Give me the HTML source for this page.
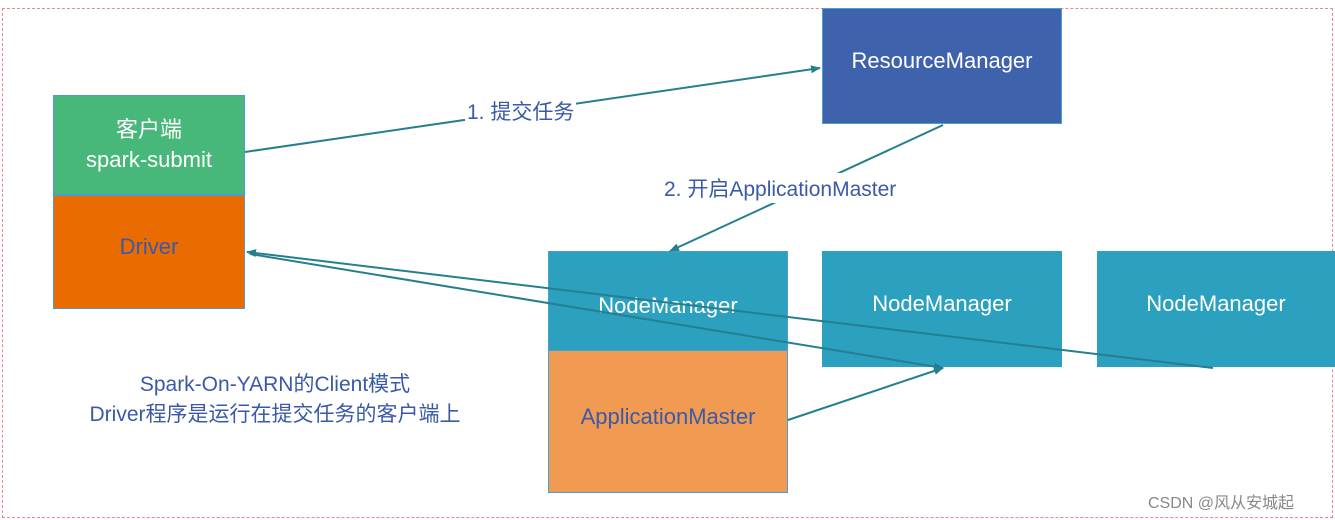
<!DOCTYPE html>
<html><head><meta charset="utf-8"><style>
body{margin:0;width:1335px;height:520px;background:#fff;overflow:hidden;position:relative;font-family:"Liberation Sans","Noto Sans CJK SC",sans-serif}
.b{position:absolute;box-sizing:border-box;display:flex;align-items:center;justify-content:center;text-align:center;font-size:22px;color:#fff;border:1px solid #4a9fd0}
.t{position:absolute;color:#3a5aa8;font-size:21px;white-space:nowrap;background:#fff}
</style></head><body>
<div style="position:absolute;left:2px;top:8px;width:1331px;height:510px;border:1px dashed #e88;box-sizing:border-box"></div>
<div class="b" style="left:53px;top:95px;width:192px;height:100px;background:#47b87a;line-height:30px">客户端<br>spark-submit</div>
<div class="b" style="left:53px;top:195px;width:192px;height:114px;background:#ea6b00;color:#3a5aa8;padding-bottom:10px">Driver</div>
<div class="b" style="left:822px;top:8px;width:240px;height:116px;background:#3f62ad;padding-bottom:10px">ResourceManager</div>
<div class="b" style="left:548px;top:251px;width:240px;height:100px;background:#2ba1bf;padding-top:10px">NodeManager</div>
<div class="b" style="left:548px;top:350px;width:240px;height:143px;background:#f09a52;color:#3a5aa8;padding-bottom:10px">ApplicationMaster</div>
<div class="b" style="left:822px;top:251px;width:240px;height:116px;background:#2ba1bf;border:none;padding-bottom:10px">NodeManager</div>
<div class="b" style="left:1097px;top:251px;width:238px;height:116px;background:#2ba1bf;border:none;padding-bottom:10px">NodeManager</div>
<svg style="position:absolute;left:0;top:0" width="1335" height="520">
<defs><marker id="a" markerWidth="10" markerHeight="8" refX="9" refY="4" orient="auto" markerUnits="userSpaceOnUse"><path d="M0,0L10,4L0,8z" fill="#247f8e"/></marker></defs>
<g stroke="#247f8e" stroke-width="2" fill="none">
<line x1="245" y1="152" x2="820" y2="68" marker-end="url(#a)"/>
<line x1="943" y1="125" x2="670" y2="251" marker-end="url(#a)"/>
<line x1="1213" y1="368" x2="247" y2="252" marker-end="url(#a)"/>
<line x1="250" y1="254" x2="943" y2="368" marker-end="url(#a)"/>
<line x1="788" y1="420" x2="943" y2="368" marker-end="url(#a)"/>
</g></svg>
<div class="t" style="left:465px;top:96px;padding:0 2px">1. 提交任务</div>
<div class="t" style="left:662px;top:173px;padding:0 2px">2. 开启ApplicationMaster</div>
<div class="t" style="left:40px;top:370px;width:470px;text-align:center;background:none;line-height:30px;white-space:normal">Spark-On-YARN的Client模式<br>Driver程序是运行在提交任务的客户端上</div>
<div style="position:absolute;left:1148px;top:489px;font-size:16px;color:#888">CSDN @风从安城起</div>
</body></html>
